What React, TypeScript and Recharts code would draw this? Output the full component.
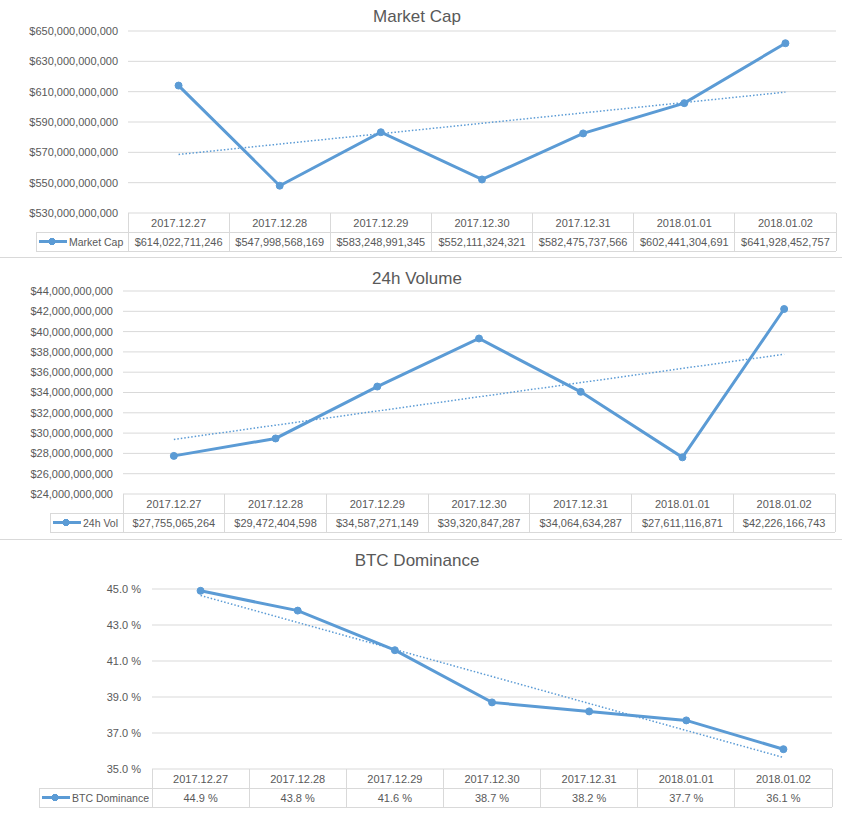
import { CartesianGrid, Line, LineChart, XAxis, YAxis } from "recharts";

const dates = ["2017.12.27", "2017.12.28", "2017.12.29", "2017.12.30", "2017.12.31", "2018.01.01", "2018.01.02"];

const marketCap = [614022711246, 547998568169, 583248991345, 552111324321, 582475737566, 602441304691, 641928452757];
const volume24h = [27755065264, 29472404598, 34587271149, 39320847287, 34064634287, 27611116871, 42226166743];
const btcDominance = [44.9, 43.8, 41.6, 38.7, 38.2, 37.7, 36.1];

// dotted trendline ends (first and last category)
const capTrendEnds = [568.6e9, 609.7e9];
const volTrendEnds = [29.38e9, 37.77e9];
const domTrendEnds = [44.64, 35.64];

const capTicks = [530e9, 550e9, 570e9, 590e9, 610e9, 630e9, 650e9];
const volTicks = [24e9, 26e9, 28e9, 30e9, 32e9, 34e9, 36e9, 38e9, 40e9, 42e9, 44e9];
const domTicks = [35, 37, 39, 41, 43, 45];

const BLUE = "#5B9BD5";
const GRID = "#D9D9D9";
const TEXT = "#595959";
const FONT = "'Liberation Sans', Arial, sans-serif";

const money = (v: number) => "$" + Math.round(v).toLocaleString("en-US");
const pct = (v: number) => v.toFixed(1) + " %";

interface ChartProps {
  top: number;
  height: number;
  plotTop: number;
  plotLeft: number;
  plotRight: number;
  bottomGap: number;
  legendLeft: number;
  tickGap: number;
  title: string;
  titleY: number;
  name: string;
  values: number[];
  trendEnds: number[];
  ticks: number[];
  fmt: (v: number) => string;
}

function TableChart(props: ChartProps) {
  const { top, height, plotTop, plotLeft, plotRight, bottomGap, legendLeft, tickGap, title, titleY, name, values, trendEnds, ticks, fmt } = props;
  const n = dates.length;
  const colW = (plotRight - plotLeft) / n;
  const rowH = 19;
  const rows = dates.map((d, i) => ({
    date: d,
    value: values[i],
    trend: i === 0 ? trendEnds[0] : i === n - 1 ? trendEnds[1] : null,
  }));

  const renderTick = (p: any) => {
    const { x, y } = p;
    const index = p.index ?? p.payload?.index ?? 0;
    const left = x - colW / 2;
    const right = x + colW / 2;
    const textStyle = { fontSize: 11, fill: TEXT, fontFamily: FONT };
    return (
      <g shapeRendering="crispEdges">
        <line x1={left} y1={y} x2={left} y2={y + 2 * rowH} stroke={GRID} />
        {index === n - 1 && <line x1={right} y1={y} x2={right} y2={y + 2 * rowH} stroke={GRID} />}
        <line x1={left} y1={y + rowH} x2={right} y2={y + rowH} stroke={GRID} />
        <line x1={left} y1={y + 2 * rowH} x2={right} y2={y + 2 * rowH} stroke={GRID} />
        <text x={x} y={y + 13.5} textAnchor="middle" style={textStyle}>{p.payload.value}</text>
        <text x={x} y={y + rowH + 13.5} textAnchor="middle" style={textStyle}>{fmt(values[index])}</text>
        {index === 0 && (
          <g>
            <line x1={legendLeft} y1={y + rowH} x2={left} y2={y + rowH} stroke={GRID} />
            <line x1={legendLeft} y1={y + 2 * rowH} x2={left} y2={y + 2 * rowH} stroke={GRID} />
            <line x1={legendLeft} y1={y + rowH} x2={legendLeft} y2={y + 2 * rowH} stroke={GRID} />
            <line x1={legendLeft + 3} y1={y + rowH + 9.5} x2={legendLeft + 31} y2={y + rowH + 9.5} stroke={BLUE} strokeWidth={3} shapeRendering="auto" />
            <circle cx={legendLeft + 16} cy={y + rowH + 9.5} r={3.5} fill={BLUE} />
            <text x={legendLeft + 33} y={y + rowH + 13.5} textAnchor="start" style={{ ...textStyle, fontSize: 10.5 }}>{name}</text>
          </g>
        )}
      </g>
    );
  };

  return (
    <div style={{ position: "absolute", left: 0, top, width: 842, height }}>
      <div
        style={{
          position: "absolute",
          left: 0,
          width: 834,
          top: titleY - 11,
          textAlign: "center",
          fontSize: 17,
          lineHeight: "22px",
          color: TEXT,
          fontFamily: FONT,
        }}
      >
        {title}
      </div>
      <LineChart
        width={842}
        height={height}
        data={rows}
        margin={{ top: plotTop, right: 842 - plotRight, bottom: bottomGap, left: 0 }}
      >
        <CartesianGrid vertical={false} stroke={GRID} />
        <XAxis
          dataKey="date"
          axisLine={false}
          tickLine={false}
          tickSize={0}
          tickMargin={0}
          height={2 * rowH}
          interval={0}
          padding={{ left: colW / 2, right: colW / 2 }}
          tick={renderTick}
        />
        <YAxis
          width={plotLeft}
          domain={[ticks[0], ticks[ticks.length - 1]]}
          ticks={ticks}
          interval={0}
          axisLine={false}
          tickLine={false}
          tickSize={0}
          tickMargin={tickGap}
          tickFormatter={fmt}
          tick={{ fontSize: 11, fill: TEXT, fontFamily: FONT }}
        />
        <Line
          dataKey="trend"
          stroke={BLUE}
          strokeWidth={1.5}
          strokeDasharray="1.5 2"
          dot={false}
          activeDot={false}
          connectNulls
          isAnimationActive={false}
        />
        <Line
          dataKey="value"
          stroke={BLUE}
          strokeWidth={3}
          dot={{ r: 3.5, fill: BLUE, stroke: BLUE, strokeWidth: 1 }}
          activeDot={false}
          isAnimationActive={false}
        />
      </LineChart>
    </div>
  );
}

export default function App() {
  return (
    <div style={{ position: "absolute", left: 0, top: 0, width: 842, height: 817, background: "#fff" }}>
      <TableChart
        top={0}
        height={257}
        plotTop={31}
        plotLeft={128}
        plotRight={836}
        bottomGap={6}
        legendLeft={36}
        tickGap={10}
        title="Market Cap"
        titleY={17}
        name="Market Cap"
        values={marketCap}
        trendEnds={capTrendEnds}
        ticks={capTicks}
        fmt={money}
      />
      <div style={{ position: "absolute", left: 0, top: 257, width: 842, height: 1, background: GRID }} />
      <TableChart
        top={258}
        height={281}
        plotTop={33}
        plotLeft={123}
        plotRight={835}
        bottomGap={7}
        legendLeft={50}
        tickGap={10}
        title="24h Volume"
        titleY={21}
        name="24h Vol"
        values={volume24h}
        trendEnds={volTrendEnds}
        ticks={volTicks}
        fmt={money}
      />
      <div style={{ position: "absolute", left: 0, top: 539, width: 842, height: 1, background: GRID }} />
      <TableChart
        top={540}
        height={277}
        plotTop={49}
        plotLeft={152}
        plotRight={832}
        bottomGap={10}
        legendLeft={39}
        tickGap={11}
        title="BTC Dominance"
        titleY={21}
        name="BTC Dominance"
        values={btcDominance}
        trendEnds={domTrendEnds}
        ticks={domTicks}
        fmt={pct}
      />
    </div>
  );
}
